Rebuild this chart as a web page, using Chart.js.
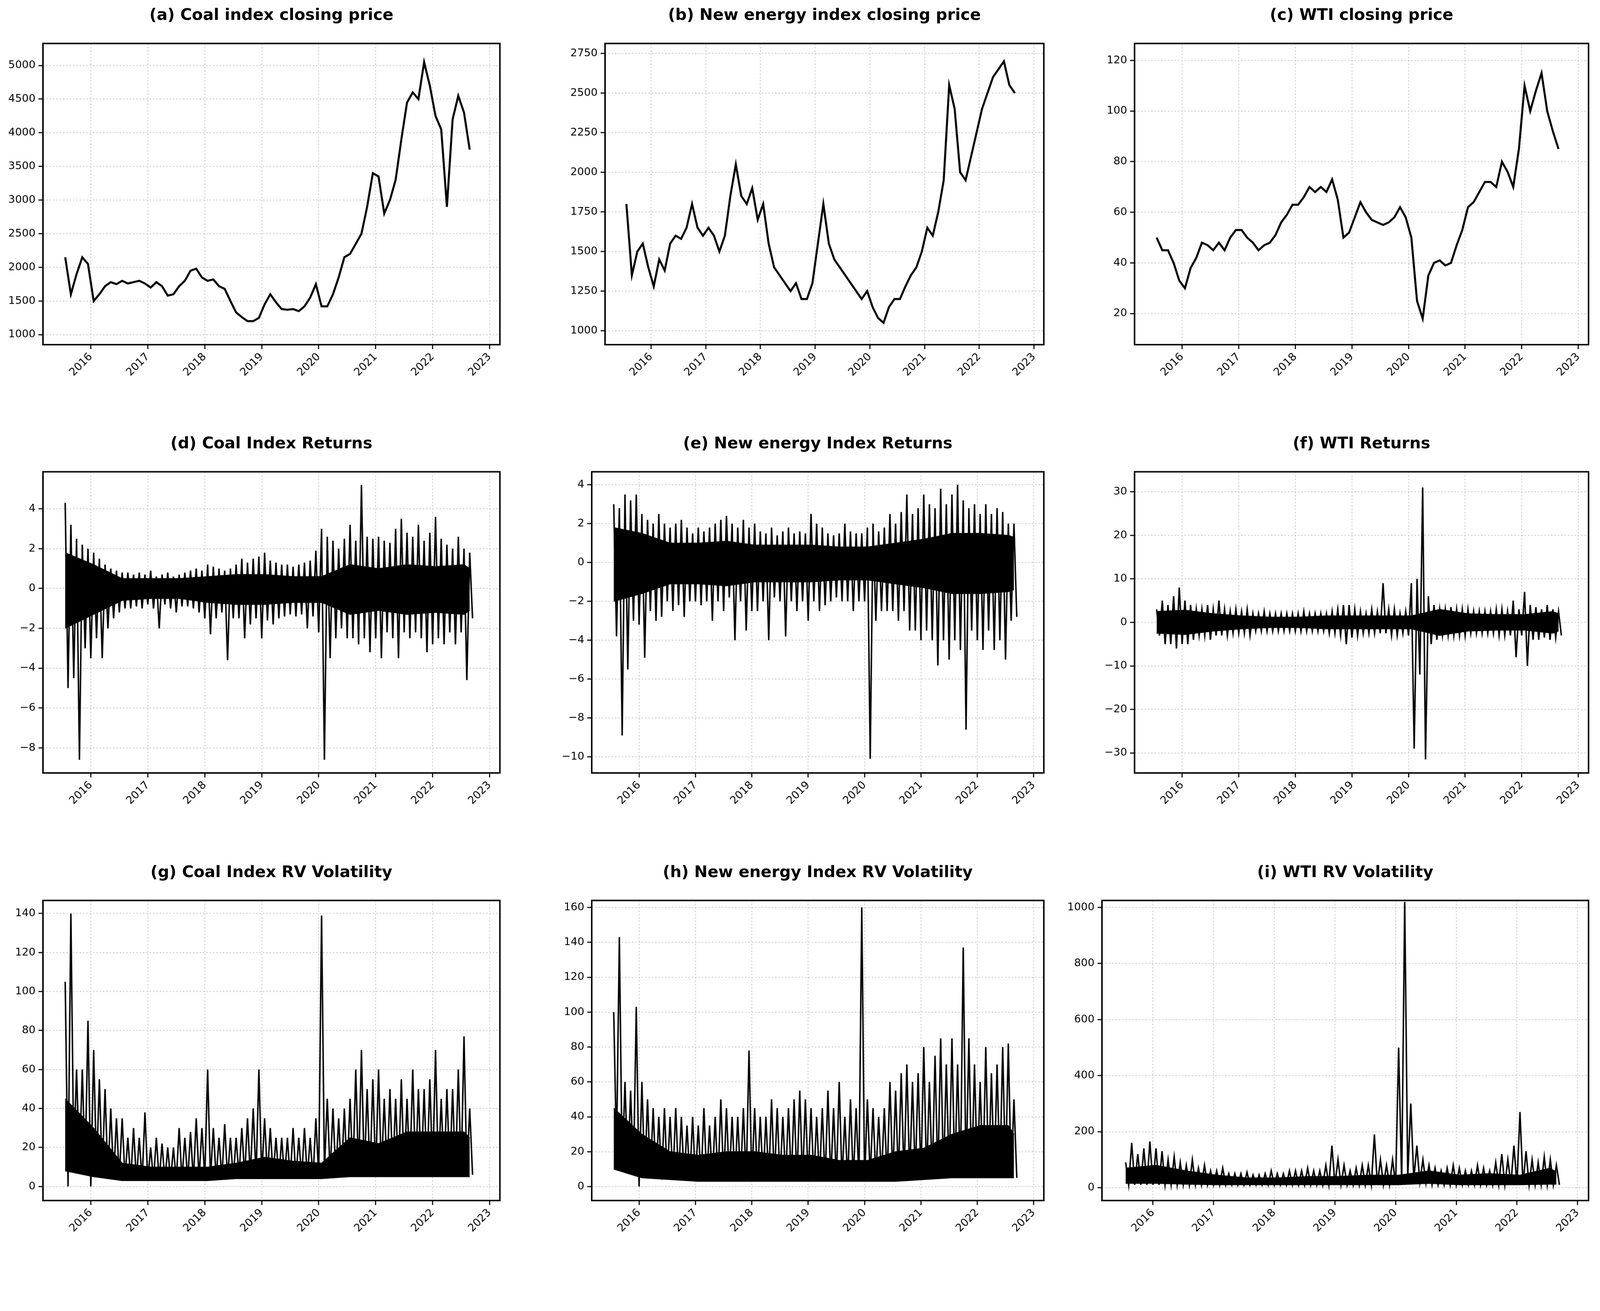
<!DOCTYPE html>
<html><head><meta charset="utf-8">
<script src="https://cdn.jsdelivr.net/npm/chart.js@4.4.1/dist/chart.umd.min.js"></script>
<style>
html,body{margin:0;background:#fff;overflow:hidden;}
#wrap{position:absolute;left:0;top:0;width:4321px;height:3357px;transform-origin:0 0;font-family:"DejaVu Sans",sans-serif;}
canvas{position:absolute;}
.t{position:absolute;font:bold 43px "DejaVu Sans";text-align:center;color:#000;white-space:nowrap;}
</style></head><body><div id="wrap"></div>
<script>
// x positions: first point 2015.55, step 0.1 yr (groups: 2015 part, then 10 per year, 2022 part)
const START = 2015.55, STEP = 0.1, CORE_STEP = 0.5, END = 2022.65;
const xTicks = [2016,2017,2018,2019,2020,2021,2022,2023];

const coalPrice = [2150,1600,1900,2150,
 2050,1500,1600,1720,1780,1750,1800,1760,1780,1800,
 1760,1700,1780,1720,1580,1600,1720,1800,1950,1980,
 1850,1800,1820,1720,1680,1500,1330,1260,1200,1200,
 1250,1450,1600,1480,1380,1370,1380,1350,1420,1550,
 1750,1420,1420,1600,1850,2150,2200,2350,2500,2900,
 3400,3350,2800,3000,3300,3900,4450,4600,4500,5050,
 4700,4250,4050,2900,4200,4550,4300,3750];
const newPrice = [1800,1350,1500,1550,
 1400,1280,1450,1380,1550,1600,1580,1650,1800,1650,
 1600,1650,1600,1500,1600,1850,2050,1850,1800,1900,
 1700,1800,1550,1400,1350,1300,1250,1300,1200,1200,
 1300,1550,1800,1550,1450,1400,1350,1300,1250,1200,
 1250,1150,1080,1050,1150,1200,1200,1280,1350,1400,
 1500,1650,1600,1750,1950,2550,2400,2000,1950,2100,
 2250,2400,2500,2600,2650,2700,2550,2500];
const wtiPrice = [50,45,45,40,
 33,30,38,42,48,47,45,48,45,50,
 53,53,50,48,45,47,48,51,56,59,
 63,63,66,70,68,70,68,73,65,50,
 52,58,64,60,57,56,55,56,58,62,
 58,50,25,18,35,40,41,39,40,47,
 53,62,64,68,72,72,70,80,76,70,
 85,110,100,108,115,100,92,85];

// spike envelopes (0.1 yr)
const coalRetHi = [4.3,3.2,2.5,2.2,
 2.0,1.8,1.5,1.2,1.0,0.9,0.8,0.8,0.7,0.8,
 0.7,0.9,0.6,0.7,0.8,0.6,0.7,0.8,0.9,1.0,
 0.9,1.2,1.1,1.0,0.9,1.0,1.2,1.5,1.3,1.5,
 1.6,1.8,1.4,1.3,1.2,1.2,1.1,1.2,1.3,1.4,
 1.9,3.0,2.6,2.4,2.0,2.5,3.2,2.4,5.2,2.6,
 2.5,2.6,2.4,2.3,3.0,3.5,2.8,2.6,3.2,2.4,
 2.8,3.6,2.5,2.2,2.0,2.6,2.0,1.8];
const coalRetLo = [-5.0,-4.5,-8.6,-3.0,
 -3.5,-2.5,-3.5,-2.0,-1.5,-1.2,-1.0,-1.0,-0.9,-1.0,
 -0.8,-1.0,-2.0,-0.8,-1.0,-1.2,-0.9,-0.9,-1.0,-1.2,
 -1.5,-2.3,-1.5,-1.2,-3.6,-1.5,-1.5,-2.5,-1.8,-1.5,
 -2.5,-1.6,-1.8,-1.5,-1.4,-1.3,-1.4,-1.3,-2.0,-1.4,
 -2.2,-8.6,-3.5,-2.5,-2.0,-2.5,-2.5,-2.8,-2.5,-3.2,
 -2.5,-3.5,-2.2,-2.5,-3.5,-2.2,-2.5,-2.2,-2.5,-3.2,
 -2.8,-2.5,-2.8,-2.2,-2.8,-2.2,-4.6,-1.5];
const newRetHi = [3.0,2.8,3.5,3.2,
 3.5,2.5,2.2,2.0,2.5,2.0,1.8,2.0,2.2,1.8,
 1.5,1.8,1.6,1.8,2.0,2.2,2.4,2.0,1.8,2.2,
 1.8,2.0,1.6,1.5,1.8,1.4,1.6,1.8,1.5,1.6,
 1.5,2.5,2.0,1.8,1.5,1.4,1.5,2.0,1.6,1.5,
 1.5,1.8,2.0,1.6,1.8,2.5,2.0,2.6,3.5,2.5,
 2.8,3.5,3.0,2.8,3.8,3.0,3.5,4.0,3.2,2.8,
 3.0,2.5,3.0,2.5,2.8,2.6,2.0,2.0];
const newRetLo = [-3.8,-8.9,-5.5,-3.0,
 -3.2,-4.9,-2.5,-3.0,-2.8,-2.0,-2.5,-2.2,-2.8,-2.0,
 -2.0,-2.2,-2.0,-3.0,-2.0,-2.5,-1.8,-4.0,-2.0,-3.5,
 -2.5,-2.5,-2.0,-4.0,-1.8,-2.0,-3.8,-2.0,-2.5,-2.0,
 -3.0,-2.0,-2.5,-2.2,-2.0,-1.8,-2.0,-2.0,-2.5,-2.0,
 -2.0,-10.1,-3.0,-2.5,-2.5,-2.5,-3.0,-2.5,-3.5,-3.5,
 -4.0,-3.5,-4.0,-5.3,-4.0,-5.0,-4.0,-4.5,-8.6,-3.5,
 -4.0,-4.5,-3.5,-4.5,-4.0,-5.0,-3.0,-2.8];
const wtiRetHi = [3,5,4,6,
 8,5,4,3,3,4,3,5,3,2.5,
 3,2.5,3,2,2,2.5,2,2,2,2,
 2,2,2.5,2,2,2,2,2.5,3,4,
 4,3,2.5,2,3,2.5,9,3,3,2,
 2.5,9,10,31,6,4,3,3,3.5,3,
 3,3,2.5,2.5,2.5,2.5,3,3,2.5,5,
 3,7,4,3.5,3,4,3,2.5];
const wtiRetLo = [-3,-5,-5,-6,
 -5,-5,-4,-3,-3,-4,-3,-3,-3,-2.5,
 -2.5,-2.5,-3,-2,-2,-2,-2,-2,-2,-2,
 -2,-2,-2,-2,-2,-2,-2.5,-2.5,-3,-5,
 -3.5,-3,-2.5,-2.5,-2.5,-2.5,-2.5,-3,-3,-2.5,
 -3,-29,-12,-31.5,-5,-4,-3,-3,-3,-3,
 -3,-2.5,-2.5,-2.5,-2.5,-2.5,-3,-3,-3,-8,
 -3,-10,-4,-4,-3.5,-4,-3.5,-3];

const coalRvHi = [105,140,60,60,
 85,70,55,50,40,35,35,25,30,25,
 38,20,25,22,20,20,30,25,28,35,
 30,60,30,25,32,25,25,30,35,40,
 60,35,30,25,25,25,30,25,30,25,
 35,139,45,40,35,40,45,60,70,50,
 55,60,45,50,45,55,45,60,50,50,
 55,70,45,50,50,60,77,40];
const coalRvLo = [0,15,10,10,
 0,8,6,5,4,4,4,3,3,3,
 3,3,3,3,3,3,3,3,3,4,
 4,4,4,4,4,4,5,5,5,5,
 5,5,5,4,4,4,4,4,4,4,
 5,8,6,6,6,6,6,6,6,6,
 6,6,6,6,6,6,6,6,6,6,
 6,6,6,6,6,6,6,6];
const newRvHi = [100,143,60,55,
 103,60,50,45,40,45,40,45,40,35,
 40,35,45,35,40,50,45,40,40,45,
 78,45,40,40,50,45,40,45,50,55,
 50,45,40,45,55,45,60,40,50,45,
 160,50,45,40,45,60,55,65,70,60,
 65,80,60,75,85,70,85,70,137,85,
 70,60,80,65,70,80,82,50];
const newRvLo = [20,10,8,8,
 0,5,5,5,4,4,4,4,4,4,
 3,3,3,3,3,3,3,3,3,3,
 3,3,3,3,3,3,3,3,3,3,
 3,3,3,3,3,3,3,3,3,3,
 3,5,5,4,4,4,5,5,5,5,
 5,5,5,5,5,5,5,5,5,5,
 5,5,5,5,5,5,5,5];
const wtiRvHi = [90,160,120,140,
 165,140,130,100,110,90,80,100,70,80,
 60,60,70,50,50,50,55,45,45,50,
 60,50,50,60,60,60,70,60,60,80,
 150,100,80,60,70,80,80,190,100,80,
 100,500,1020,300,150,100,80,70,60,70,
 80,70,60,60,80,70,60,90,120,100,
 150,270,130,100,90,110,100,80];
const wtiRvLo = [10,10,10,10,
 10,10,10,10,10,10,10,10,10,10,
 10,10,10,10,10,10,10,10,10,10,
 10,10,10,10,10,10,10,10,10,10,
 10,10,10,10,10,10,10,10,10,10,
 10,20,40,30,20,15,10,10,10,10,
 10,10,10,10,10,10,10,10,10,10,
 10,10,10,10,10,10,10,10];

// dense core bands (0.5 yr)
const coalRetCoreHi=[1.8,1.2,0.5,0.5,0.5,0.6,0.7,0.7,0.6,0.6,1.2,1.0,1.2,1.1,1.2,1.0];
const coalRetCoreLo=[-2.0,-1.3,-0.6,-0.5,-0.5,-0.7,-0.8,-0.8,-0.7,-0.7,-1.3,-1.1,-1.3,-1.2,-1.3,-1.1];
const newRetCoreHi=[1.8,1.5,1.0,1.0,1.1,0.9,0.9,0.9,0.8,0.8,1.0,1.2,1.5,1.5,1.4,1.3];
const newRetCoreLo=[-2.0,-1.6,-1.1,-1.1,-1.2,-1.0,-1.0,-1.0,-0.9,-0.9,-1.1,-1.3,-1.6,-1.6,-1.5,-1.4];
const wtiRetCoreHi=[2.5,2.8,2.0,1.5,1.2,1.2,1.5,1.5,1.5,1.5,3.0,2.0,1.8,1.8,2.5,2.0];
const wtiRetCoreLo=[-2.5,-2.8,-2.0,-1.5,-1.2,-1.2,-1.5,-1.5,-1.5,-1.5,-3.0,-2.0,-1.8,-1.8,-2.5,-2.0];
const coalRvCoreHi=[45,30,12,10,10,10,12,15,13,12,25,22,28,28,28,25];
const coalRvCoreLo=[8,5,3,3,3,3,4,4,4,4,5,5,5,5,5,5];
const newRvCoreHi=[45,30,20,18,20,20,18,18,15,15,20,22,30,35,35,30];
const newRvCoreLo=[10,5,4,3,3,3,3,3,3,3,3,4,5,5,5,5];
const wtiRvCoreHi=[70,80,60,45,35,35,40,40,45,45,60,45,50,45,70,55];
const wtiRvCoreLo=[15,15,12,10,10,10,10,10,10,10,15,10,10,10,12,12];

const ticksA=[1000,1500,2000,2500,3000,3500,4000,4500,5000];
const ticksB=[1000,1250,1500,1750,2000,2250,2500,2750];
const ticksC=[20,40,60,80,100,120];
const ticksD=[-8,-6,-4,-2,0,2,4];
const ticksE=[-10,-8,-6,-4,-2,0,2,4];
const ticksF=[-30,-20,-10,0,10,20,30];
const ticksG=[0,20,40,60,80,100,120,140];
const ticksH=[0,20,40,60,80,100,120,140,160];
const ticksI=[0,200,400,600,800,1000];

function line(v){return v.map((y,i)=>({x:START+i*STEP,y}));}
function band(hi,lo){const d=[];hi.forEach((h,i)=>{d.push({x:START+i*STEP,y:h});d.push({x:START+i*STEP+STEP/2,y:lo[i]});});return d;}
function core(v){return v.map((y,i)=>({x:Math.min(START+i*CORE_STEP,END),y}));}

const panels=[
 {t:'(a) Coal index closing price',d:line(coalPrice),yt:ticksA,ymin:851,ymax:5327,L:116,T:102,R:1350,B:931},
 {t:'(b) New energy index closing price',d:line(newPrice),yt:ticksB,ymin:912,ymax:2813,L:1634,T:102,R:2819,B:931},
 {t:'(c) WTI closing price',d:line(wtiPrice),yt:ticksC,ymin:7.7,ymax:126.7,L:3064,T:102,R:4290,B:931},
 {t:'(d) Coal Index Returns',d:band(coalRetHi,coalRetLo),ch:coalRetCoreHi,cl:coalRetCoreLo,yt:ticksD,ymin:-9.26,ymax:5.86,L:116,T:1259,R:1350,B:2088},
 {t:'(e) New energy Index Returns',d:band(newRetHi,newRetLo),ch:newRetCoreHi,cl:newRetCoreLo,yt:ticksE,ymin:-10.83,ymax:4.67,L:1598,T:1259,R:2819,B:2088},
 {t:'(f) WTI Returns',d:band(wtiRetHi,wtiRetLo),ch:wtiRetCoreHi,cl:wtiRetCoreLo,yt:ticksF,ymin:-34.6,ymax:34.6,L:3064,T:1259,R:4290,B:2088},
 {t:'(g) Coal Index RV Volatility',d:band(coalRvHi,coalRvLo),ch:coalRvCoreHi,cl:coalRvCoreLo,yt:ticksG,ymin:-7.2,ymax:146.7,L:116,T:2417,R:1350,B:3243},
 {t:'(h) New energy Index RV Volatility',d:band(newRvHi,newRvLo),ch:newRvCoreHi,cl:newRvCoreLo,yt:ticksH,ymin:-8,ymax:164,L:1598,T:2417,R:2819,B:3243},
 {t:'(i) WTI RV Volatility',d:band(wtiRvHi,wtiRvLo),ch:wtiRvCoreHi,cl:wtiRvCoreLo,yt:ticksI,ymin:-46,ymax:1025,L:2976,T:2417,R:4290,B:3243},
];

const wrap=document.getElementById('wrap');
const S=Math.min(1,window.innerWidth/4321);
wrap.style.transform='scale('+S+')';
const DPR=Math.max(1,(window.devicePixelRatio||1)*S);

const frame={id:'frame',afterDatasetsDraw(c){const a=c.chartArea,g=c.ctx;g.save();g.strokeStyle='#000';g.lineWidth=4;g.strokeRect(a.left,a.top,a.right-a.left,a.bottom-a.top);g.restore();}};
const YW=150,XH=150,PT=10,PR=30;
const font={family:'"DejaVu Sans"',size:29};
panels.forEach(p=>{
 const cv=document.createElement('canvas');
 const w=p.R-p.L+YW+PR,h=p.B-p.T+PT+XH;
 cv.width=w;cv.height=h;
 cv.style.left=(p.L-YW)+'px';cv.style.top=(p.T-PT)+'px';
 cv.style.width=w+'px';cv.style.height=h+'px';
 wrap.appendChild(cv);
 const tt=document.createElement('div');tt.className='t';tt.textContent=p.t;
 tt.style.left=p.L+'px';tt.style.width=(p.R-p.L)+'px';tt.style.top=(p.T-88)+'px';wrap.appendChild(tt);
 const grid={color:'#cfcfcf',lineWidth:2.5,drawTicks:true,tickLength:12,tickColor:'#000',tickWidth:3,tickBorderDash:[]};
 const ds=[];
 if(p.ch){
  ds.push({data:core(p.cl),borderColor:'#000',borderWidth:2,pointRadius:0,tension:0,fill:false});
  ds.push({data:core(p.ch),borderColor:'#000',backgroundColor:'#000',borderWidth:2,pointRadius:0,tension:0,fill:'-1'});
  ds.push({data:p.d,borderColor:'#000',borderWidth:4,pointRadius:0,tension:0,fill:false});
 } else {
  ds.push({data:p.d,borderColor:'#000',borderWidth:5.5,pointRadius:0,tension:0,fill:false});
 }
 new Chart(cv,{type:'line',data:{datasets:ds},
  options:{responsive:false,maintainAspectRatio:false,animation:false,devicePixelRatio:DPR,events:[],
   layout:{padding:{left:0,top:PT,right:PR,bottom:0}},
   plugins:{legend:{display:false},tooltip:{enabled:false}},
   scales:{
    x:{type:'linear',min:2015.16,max:2023.18,grid:grid,border:{display:false,dash:[4,5]},
       afterBuildTicks:s=>{s.ticks=xTicks.map(v=>({value:v}));},
       afterFit:s=>{s.height=XH;},
       ticks:{color:'#000',font:font,minRotation:45,maxRotation:45,padding:4,autoSkip:false,callback:v=>String(v)}},
    y:{type:'linear',min:p.ymin,max:p.ymax,grid:grid,border:{display:false,dash:[4,5]},
       afterBuildTicks:s=>{s.ticks=p.yt.map(v=>({value:v}));},
       afterFit:s=>{s.width=YW;},
       ticks:{color:'#000',font:font,padding:8,autoSkip:false,callback:v=>String(v).replace('-','\u2212')}}
   }},plugins:[frame]});
});
</script>
</body></html>
